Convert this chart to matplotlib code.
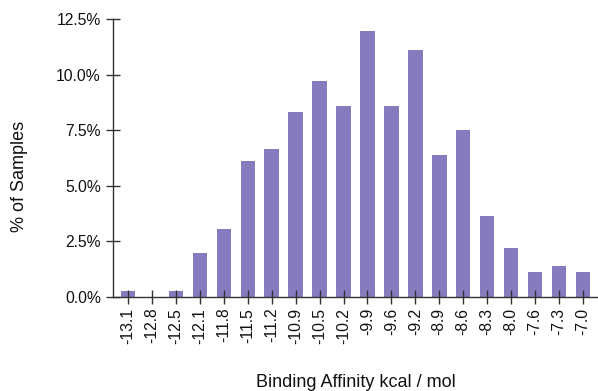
import matplotlib
matplotlib.use("Agg")
import matplotlib.pyplot as plt
from matplotlib.ticker import FuncFormatter

plt.rcParams['font.family'] = ['Liberation Sans', 'DejaVu Sans']

categories = ["-13.1", "-12.8", "-12.5", "-12.1", "-11.8", "-11.5", "-11.2", "-10.9",
              "-10.5", "-10.2", "-9.9", "-9.6", "-9.2", "-8.9", "-8.6", "-8.3",
              "-8.0", "-7.6", "-7.3", "-7.0"]
values = [0.27, 0.0, 0.27, 1.96, 3.04, 6.1, 6.67, 8.34, 9.72, 8.61, 11.94, 8.61,
          11.1, 6.37, 7.5, 3.63, 2.21, 1.13, 1.39, 1.13]
yticks = [0.0, 2.5, 5.0, 7.5, 10.0, 12.5]

W, H = 598, 391
fig = plt.figure(figsize=(W / 100, H / 100), dpi=100)
left, right, top, bottom = 113, 598, 19, 297
ax = fig.add_axes([left / W, 1 - bottom / H, (right - left) / W, (bottom - top) / H])

x = list(range(len(categories)))
ax.bar(x, values, width=0.61, color='#877BBF', edgecolor='none')

ax.set_xlim(-0.635, len(categories) - 1 + 0.635)
ax.set_ylim(0, 12.5)
ax.set_yticks(yticks)
ax.yaxis.set_major_formatter(FuncFormatter(lambda v, p: f"{v:.1f}%"))
ax.set_xticks(x)
ax.set_xticklabels(categories, rotation=90)

for s in ['top', 'right']:
    ax.spines[s].set_visible(False)
for s in ['left', 'bottom']:
    ax.spines[s].set_color('#333333')
    ax.spines[s].set_linewidth(1.0)

ax.tick_params(axis='both', direction='inout', length=9.5, width=1.0, color='#333333',
               labelsize=11.3, labelcolor='#111111')
ax.tick_params(axis='x', pad=3)
ax.tick_params(axis='y', pad=4)

fig.text(19.5 / W, 1 - 176.7 / H, "% of Samples", rotation=90, ha='center', va='center',
         fontsize=13, color='#111111')
fig.text(355.5 / W, 1 - 387 / H, "Binding Affinity kcal / mol", ha='center', va='baseline',
         fontsize=13, color='#111111')

fig.savefig("out.png", dpi=100)
